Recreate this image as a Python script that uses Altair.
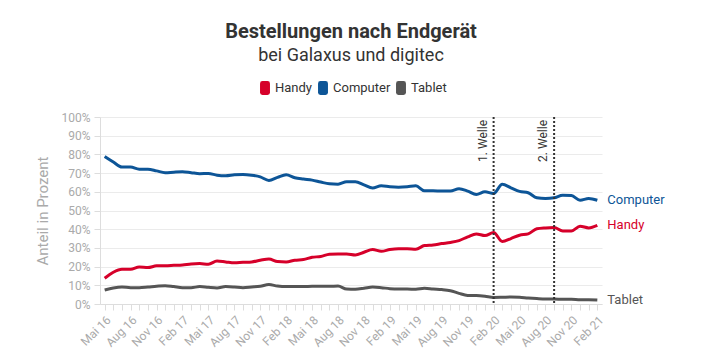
import altair as alt
import pandas as pd

month_names = ["Jan", "Feb", "Mär", "Apr", "Mai", "Jun", "Jul", "Aug", "Sep", "Okt", "Nov", "Dez"]
months = []
for y in range(2016, 2022):
    for m in range(12):
        if (y == 2016 and m < 4) or (y == 2021 and m > 1):
            continue
        months.append(f"{month_names[m]} {str(y)[2:]}")

computer = [78.9, 75.9, 73.2, 73.2, 72.1, 72.1, 71.2, 70.2, 70.5, 70.7,
            70.2, 69.7, 69.8, 68.9, 68.6, 69.1, 69.3, 68.9, 68.0, 66.1,
            67.7, 69.1, 67.5, 66.8, 66.25, 65.2, 64.3, 64.1, 65.4, 65.4,
            63.75, 62.0, 63.2, 62.7, 62.5, 62.7, 63.2, 60.5, 60.5, 60.4,
            60.4, 61.6, 60.4, 58.6, 60.0, 59.1, 64.0, 62.1, 60.2, 59.5,
            56.8, 56.4, 56.8, 58.2, 58.0, 55.5, 56.4, 55.5]
handy = [13.75, 17.0, 18.6, 18.6, 19.8, 19.5, 20.4, 20.5, 20.7, 20.9,
         21.4, 21.6, 21.25, 23.0, 22.5, 22.0, 22.3, 22.5, 23.4, 24.1,
         22.7, 22.5, 23.4, 23.75, 25.0, 25.4, 26.6, 26.8, 26.8, 26.25,
         27.7, 29.1, 28.2, 29.1, 29.5, 29.5, 29.3, 31.25, 31.6, 32.3,
         32.9, 33.9, 35.9, 37.5, 36.6, 38.2, 33.4, 35.0, 36.8, 37.5,
         40.2, 40.7, 40.9, 39.1, 39.1, 41.6, 40.7, 42.0]
tablet = [7.5, 8.6, 9.1, 8.75, 8.75, 9.1, 9.5, 9.8, 9.3, 8.75,
          8.75, 9.3, 8.9, 8.6, 9.3, 9.1, 8.75, 9.1, 9.5, 10.4,
          9.6, 9.3, 9.3, 9.3, 9.5, 9.5, 9.5, 9.6, 8.0, 7.9,
          8.4, 9.1, 8.75, 8.2, 8.0, 8.0, 7.9, 8.4, 8.0, 7.7,
          7.1, 5.7, 4.6, 4.5, 4.1, 3.5, 3.6, 3.75, 3.6, 3.2,
          2.9, 2.7, 2.7, 2.5, 2.5, 2.3, 2.3, 2.1]

series_names = ["Handy", "Computer", "Tablet"]
series_colors = ["#d6002a", "#0d5597", "#555555"]
wave_months = ["Feb 20", "Sep 20"]
wave_labels = ["1. Welle", "2. Welle"]
y_ticks = [0, 10, 20, 30, 40, 50, 60, 70, 80, 90, 100]

rows = []
for name, vals in zip(series_names, [handy, computer, tablet]):
    for mo, v in zip(months, vals):
        rows.append({"Monat": mo, "Gerät": name, "Anteil": v})
df = pd.DataFrame(rows)
last = df[df["Monat"] == months[-1]]
waves = pd.DataFrame({"Monat": wave_months, "label": wave_labels})

FONT = "Roboto"

x_enc = alt.X("Monat:O", sort=months,
              scale=alt.Scale(type="point", padding=0.54),
              axis=alt.Axis(title=None, labelAngle=-45, labelColor="#aaaaaa",
                            labelFontSize=12, labelFont=FONT,
                            labelExpr="indexof(['Feb','Mai','Aug','Nov'], substring(datum.label,0,3)) >= 0 ? datum.label : ''",
                            tickColor="#dddddd", tickSize=6, domainColor="#dddddd",
                            labelPadding=4))

y_axis = alt.Axis(title="Anteil in Prozent", values=y_ticks,
                  labelExpr="datum.value + '%'", labelColor="#aaaaaa",
                  labelFontSize=12, labelFont=FONT, labelOverlap=False,
                  titleColor="#aaaaaa", titleFontSize=15, titleFontWeight="normal",
                  titleFont=FONT, titlePadding=10,
                  gridColor="#ebebeb", tickColor="#dddddd", tickSize=6,
                  domainColor="#dddddd", labelPadding=4)
y_scale = alt.Scale(domain=[0, 100])

color_scale = alt.Scale(domain=series_names, range=series_colors)

rrect = "M-0.36,-1 L0.36,-1 Q0.71,-1 0.71,-0.65 L0.71,0.65 Q0.71,1 0.36,1 L-0.36,1 Q-0.71,1 -0.71,0.65 L-0.71,-0.65 Q-0.71,-1 -0.36,-1 Z"

lines = alt.Chart(df).mark_line(strokeWidth=3, interpolate="monotone").encode(
    x=x_enc,
    y=alt.Y("Anteil:Q", scale=y_scale, axis=y_axis),
    color=alt.Color("Gerät:N", scale=color_scale, sort=series_names,
                    legend=alt.Legend(title=None, orient="none", direction="horizontal",
                                      legendX=158, legendY=-36,
                                      symbolType=rrect, symbolSize=196,
                                      symbolStrokeWidth=0, labelFontSize=13,
                                      labelFont=FONT, labelColor="#333333",
                                      columnPadding=3, symbolOffset=0, labelOffset=3)),
)

rules = alt.Chart(waves).mark_rule(color="#333333", strokeWidth=2, strokeDash=[2, 2]).encode(
    x=alt.X("Monat:O", sort=months)
)

wave_text = alt.Chart(waves).mark_text(angle=270, align="right", baseline="bottom",
                                       dy=-4, fontSize=12, font=FONT, color="#333333").encode(
    x=alt.X("Monat:O", sort=months),
    y=alt.value(3),
    text="label:N",
)

end_text = alt.Chart(last).mark_text(align="left", baseline="middle", dx=10,
                                     fontSize=13, font=FONT).encode(
    x=alt.X("Monat:O", sort=months),
    y=alt.Y("Anteil:Q", scale=y_scale, axis=y_axis),
    text="Gerät:N",
    color=alt.Color("Gerät:N", scale=color_scale, legend=None),
)

chart = alt.layer(lines, rules, wave_text, end_text).properties(
    width=502, height=187,
    padding={"left": 27, "top": 14, "right": 5, "bottom": 5},
    title=alt.TitleParams(text="Bestellungen nach Endgerät",
                          subtitle="bei Galaxus und digitec",
                          font=FONT, fontSize=20, fontWeight="bold", color="#333333",
                          subtitleFont=FONT, subtitleFontSize=18, subtitleColor="#333333",
                          anchor="middle", offset=16, subtitlePadding=5),
).configure_view(stroke=None)

chart.save("out.html", embed_options={"renderer": "svg", "actions": False})
